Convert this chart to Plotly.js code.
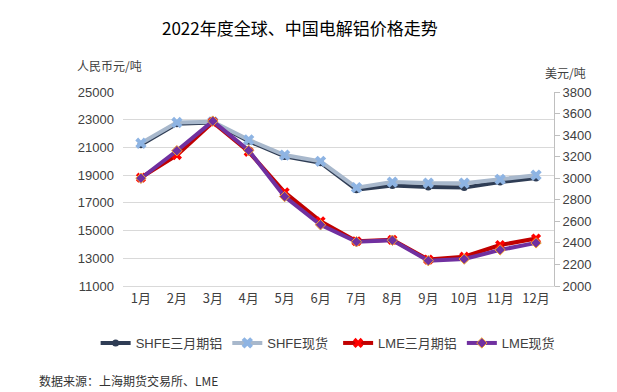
<!DOCTYPE html>
<html>
<head>
<meta charset="utf-8">
<script src="https://cdn.plot.ly/plotly-3.0.1.min.js"></script>
<style>html,body{margin:0;padding:0;background:#fff;}#chart{width:617px;height:392px;}</style>
</head>
<body>
<div id="chart"></div>
<script>
const months = ["1月","2月","3月","4月","5月","6月","7月","8月","9月","10月","11月","12月"];
const shfeFutures = [21200, 22700, 22800, 21450, 20350, 19900, 17950, 18250, 18150, 18100, 18500, 18800];
const shfeSpot    = [21300, 22800, 22850, 21550, 20450, 20000, 18100, 18500, 18430, 18420, 18700, 19000];
const lmeFutures  = [3005, 3215, 3520, 3245, 2870, 2600, 2415, 2428, 2245, 2272, 2380, 2440];
const lmeSpot     = [3000, 3255, 3530, 3258, 2830, 2568, 2410, 2425, 2235, 2250, 2335, 2400];
const seriesNames = ["SHFE三月期铝","SHFE现货","LME三月期铝","LME现货"];

const FONT = "Liberation Sans, Arial, Noto Sans CJK SC, sans-serif";
const CJK = "Noto Sans CJK SC, sans-serif";

const traces = [
  {x: months, y: shfeFutures, name: seriesNames[0], type: "scatter", mode: "lines+markers", yaxis: "y", legend: "legend",
   line: {color: "#2F3D55", width: 4}, marker: {symbol: "circle", size: 7, color: "#2F3D55"}},
  {x: months, y: shfeSpot, name: seriesNames[1], type: "scatter", mode: "lines+markers", yaxis: "y", legend: "legend",
   line: {color: "#A8B8CC", width: 4}, marker: {symbol: "x", size: 10, color: "#8EB4E3"}},
  {x: months, y: lmeFutures, name: seriesNames[2], type: "scatter", mode: "lines+markers", yaxis: "y2", legend: "legend2",
   line: {color: "#C00000", width: 4}, marker: {symbol: "x", size: 9, color: "#FF0000"}},
  {x: months, y: lmeSpot, name: seriesNames[3], type: "scatter", mode: "lines+markers", yaxis: "y2", legend: "legend2",
   line: {color: "#7030A0", width: 4}, marker: {symbol: "diamond", size: 8, color: "#7030A0", line: {color: "#F0A030", width: 1}}}
];

const legendBase = {orientation: "h", xref: "container", yref: "container", xanchor: "left", y: 0.125, yanchor: "middle",
  font: {family: FONT, size: 13, color: "#404040"}, tracegroupgap: 0, itemwidth: 30, bgcolor: "rgba(0,0,0,0)"};

const layout = {
  width: 617, height: 392,
  paper_bgcolor: "#fff", plot_bgcolor: "#fff",
  margin: {l: 123, r: 63, t: 92, b: 106, autoexpand: false},
  title: {text: "2022年度全球、中国电解铝价格走势", x: 0.486, xanchor: "center", y: 0.925, yanchor: "middle",
          font: {family: CJK, size: 17, color: "#000"}},
  font: {family: FONT, size: 13, color: "#404040"},
  showlegend: true,
  legend: Object.assign({}, legendBase, {x: 0.155}),
  legend2: Object.assign({}, legendBase, {x: 0.548}),
  xaxis: {type: "category", range: [-0.5, 11.5], showgrid: false, showline: true, linecolor: "#d9d9d9",
          ticks: "", tickfont: {family: CJK, size: 13, color: "#404040"}, fixedrange: true, tickangle: 0},
  yaxis: {range: [11000, 25000], dtick: 2000, tick0: 11000, tickformat: "d", showgrid: true, gridcolor: "#d9d9d9", gridwidth: 1,
          zeroline: false, showline: false, ticks: "", tickfont: {size: 13, color: "#404040"}, ticklabelstandoff: 8},
  yaxis2: {range: [2000, 3800], dtick: 200, tick0: 2000, tickformat: "d", overlaying: "y", side: "right", showgrid: false,
           zeroline: false, showline: true, linecolor: "#bfbfbf", ticks: "outside", ticklen: 5, tickcolor: "#bfbfbf",
           tickfont: {size: 13, color: "#404040"}},
  annotations: [
    {text: "人民币元/吨", xref: "paper", yref: "paper", x: -0.111, y: 1.139, xanchor: "left", yanchor: "middle",
     showarrow: false, font: {family: CJK, size: 12, color: "#404040"}},
    {text: "美元/吨", xref: "paper", yref: "paper", x: 0.974, y: 1.103, xanchor: "left", yanchor: "middle",
     showarrow: false, font: {family: CJK, size: 12, color: "#404040"}},
    {text: "数据来源：上海期货交易所、LME", xref: "paper", yref: "paper", x: -0.2, y: -0.485, xanchor: "left", yanchor: "middle",
     showarrow: false, font: {family: CJK, size: 12, color: "#333"}}
  ]
};

Plotly.newPlot("chart", traces, layout, {displayModeBar: false, staticPlot: true});
</script>
</body>
</html>
